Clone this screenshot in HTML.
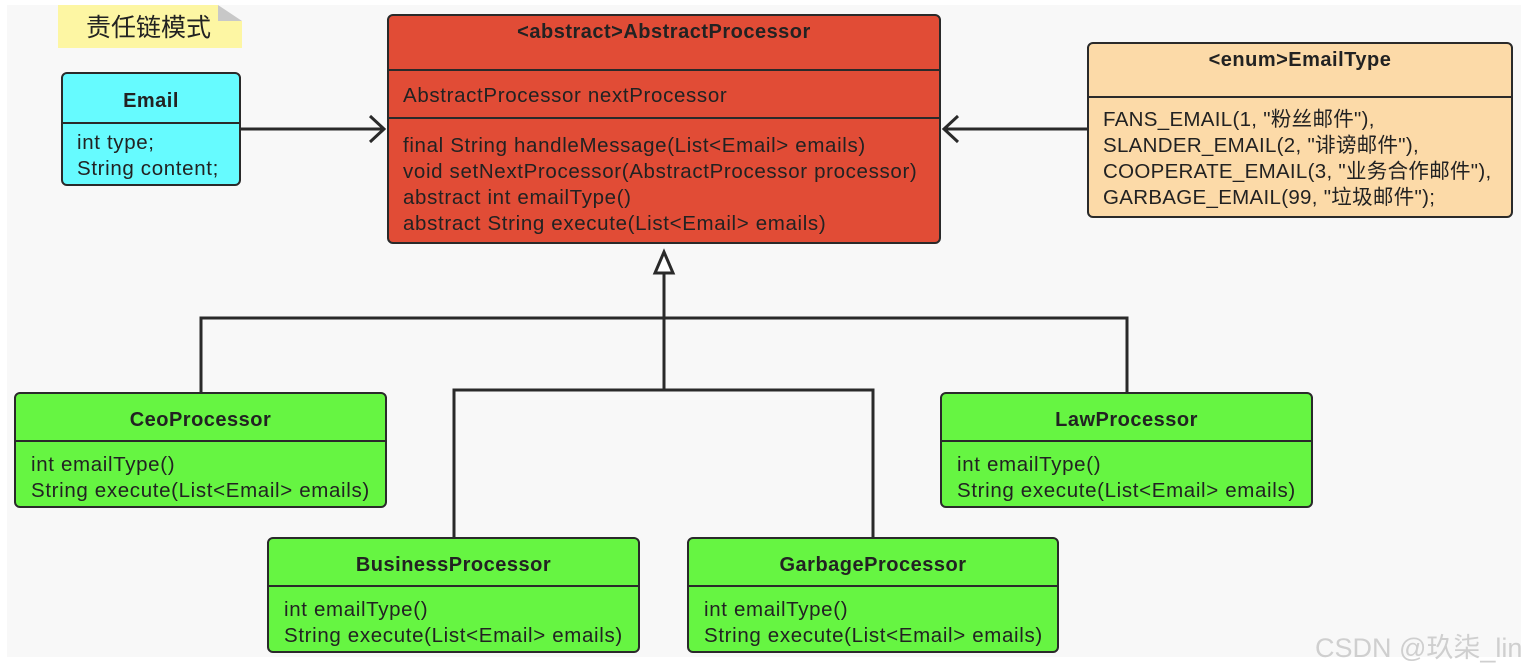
<!DOCTYPE html>
<html><head><meta charset="utf-8"><style>
body{margin:0;width:1533px;height:672px;background:#fff;position:relative;overflow:hidden;font-family:"Liberation Sans","Noto Sans CJK SC",sans-serif;color:#222}
#bg{position:absolute;left:7px;top:5px;width:1514px;height:652px;background:#f8f8f8}
.box{position:absolute;border:2.5px solid #2a2a2a;border-radius:6px;box-sizing:border-box}
.hd{position:absolute;left:0;right:0;text-align:center;font-weight:bold;font-size:20px;letter-spacing:0.5px}
.dv{position:absolute;left:0;right:0;border-top:2.5px solid #2a2a2a}
.tx{position:absolute;font-size:20.5px;letter-spacing:0.65px;line-height:26px;white-space:pre}
.g{background:#66f542}
</style></head><body>
<div id="bg"></div>
<div style="position:absolute;left:58px;top:5px;width:184px;height:43px;background:#fdf6a3"></div>
<div style="position:absolute;left:218px;top:5px;width:0;height:0;border-left:24px solid #c8c8c8;border-top:16px solid #f8f8f8"></div>
<div style="position:absolute;left:86px;top:8px;font-size:25px;font-family:'Noto Sans CJK SC',sans-serif">责任链模式</div>

<svg style="position:absolute;left:0;top:0" width="1533" height="672">
<g stroke="#2a2a2a" stroke-width="3" fill="none">
<line x1="241" y1="129" x2="384" y2="129"/>
<polyline points="370,116 384,129 370,142"/>
<line x1="1087" y1="129" x2="944" y2="129"/>
<polyline points="958,116 944,129 958,142"/>
<line x1="664" y1="273" x2="664" y2="390"/>
<polygon points="664,252 655,273 673,273" fill="#fff"/>
<polyline points="201,392 201,318 1127,318 1127,392"/>
<polyline points="454,537 454,390 873,390 873,537"/>
</g></svg>

<div class="box" style="left:61px;top:72px;width:180px;height:114px;background:#66fbff">
<div class="hd" style="top:16px">Email</div>
<div class="dv" style="top:48px"></div>
<div class="tx" style="left:14px;top:56px">int type;
String content;</div></div>

<div class="box" style="left:387px;top:14px;width:554px;height:230px;background:#e14c36">
<div class="hd" style="top:5px">&lt;abstract&gt;AbstractProcessor</div>
<div class="dv" style="top:53px"></div>
<div class="tx" style="left:14px;top:67px">AbstractProcessor nextProcessor</div>
<div class="dv" style="top:101px"></div>
<div class="tx" style="left:14px;top:117px">final String handleMessage(List&lt;Email&gt; emails)
void setNextProcessor(AbstractProcessor processor)
abstract int emailType()
abstract String execute(List&lt;Email&gt; emails)</div></div>

<div class="box" style="left:1087px;top:42px;width:426px;height:176px;background:#fcdaa8">
<div class="hd" style="top:5px">&lt;enum&gt;EmailType</div>
<div class="dv" style="top:52px"></div>
<div class="tx" style="left:14px;top:63px;letter-spacing:0.3px">FANS_EMAIL(1, "粉丝邮件"),
SLANDER_EMAIL(2, "诽谤邮件"),
COOPERATE_EMAIL(3, "业务合作邮件"),
GARBAGE_EMAIL(99, "垃圾邮件");</div></div>

<div class="box g" style="left:14px;top:392px;width:373px;height:116px">
<div class="hd" style="top:15px">CeoProcessor</div>
<div class="dv" style="top:46px"></div>
<div class="tx" style="left:15px;top:58px">int emailType()
String execute(List&lt;Email&gt; emails)</div></div>

<div class="box g" style="left:940px;top:392px;width:373px;height:116px">
<div class="hd" style="top:15px">LawProcessor</div>
<div class="dv" style="top:46px"></div>
<div class="tx" style="left:15px;top:58px">int emailType()
String execute(List&lt;Email&gt; emails)</div></div>

<div class="box g" style="left:267px;top:537px;width:373px;height:116px">
<div class="hd" style="top:15px">BusinessProcessor</div>
<div class="dv" style="top:46px"></div>
<div class="tx" style="left:15px;top:58px">int emailType()
String execute(List&lt;Email&gt; emails)</div></div>

<div class="box g" style="left:687px;top:537px;width:372px;height:116px">
<div class="hd" style="top:15px">GarbageProcessor</div>
<div class="dv" style="top:46px"></div>
<div class="tx" style="left:15px;top:58px">int emailType()
String execute(List&lt;Email&gt; emails)</div></div>

<div style="position:absolute;left:1315px;top:626px;font-size:27px;color:#cfcfcf;white-space:nowrap">CSDN @玖柒_lin</div>
</body></html>
